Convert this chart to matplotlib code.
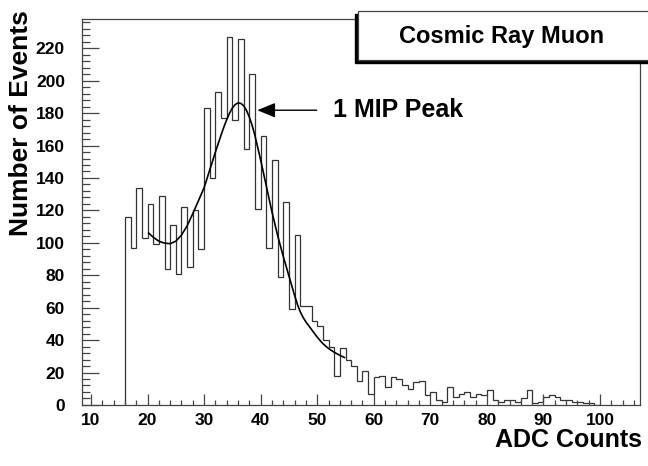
import numpy as np
import matplotlib.pyplot as plt
from matplotlib.ticker import MultipleLocator
from matplotlib.patches import Rectangle

plt.rcParams['font.family'] = ['Liberation Sans', 'DejaVu Sans']
plt.rcParams['font.weight'] = 'bold'

# histogram: 1 ADC-count bins starting at 16
bin_start = 16
counts = [116, 97, 134, 103, 124, 99, 129, 84, 111, 81,
          122, 85, 120, 96, 183, 140, 193, 177, 227, 176,
          226, 158, 204, 121, 166, 97, 151, 79, 125, 59,
          105, 61, 61, 52, 49, 40, 36, 18, 35, 28,
          24, 15, 21, 7, 17, 18, 11, 17, 16, 12,
          10, 14, 15, 6, 8, 3, 2, 11, 5, 7,
          8, 5, 7, 6, 9, 3, 2, 3, 3, 2,
          4, 9, 1, 2, 5, 6, 5, 3, 3, 2,
          2, 1, 1, 0]

# fit curve
fit_x = [20.2, 21, 22, 23, 24, 25, 26, 27, 28, 29, 30, 31, 32, 33, 33.5, 34,
         34.5, 35, 35.5, 36, 36.5, 37, 37.5, 38, 38.5, 39, 40, 41, 42, 43, 44,
         45, 46, 46.5, 47, 47.5, 48, 49, 50, 51, 52, 53, 54, 54.8]
fit_y = [106, 103.5, 101, 99.8, 99.5, 101, 104.8, 110.5, 118, 126, 134, 145,
         156, 166.5, 171.5, 176, 180, 183.2, 185.3, 186.3, 186, 184.5, 181.6,
         177.5, 172.3, 166, 151, 135, 119, 104.5, 91.5, 79.5, 67.5, 62, 57.5,
         54, 51.2, 46.5, 41.8, 37.8, 34.8, 32.5, 30.6, 29.3]

edges = np.arange(bin_start, bin_start + len(counts) + 1)

fig = plt.figure(figsize=(6.48, 4.66), dpi=100)
ax = fig.add_axes([0.126, 0.131, 0.862, 0.828])

ax.stairs(counts, edges, baseline=0, color='#333333', linewidth=0.9)
ax.plot(fit_x, fit_y, color='black', linewidth=1.2, solid_joinstyle='round')

ax.set_xlim(8.35, 107.1)
ax.set_ylim(0, 238)

ax.xaxis.set_major_locator(MultipleLocator(10))
ax.xaxis.set_minor_locator(MultipleLocator(2))
ax.yaxis.set_major_locator(MultipleLocator(20))
ax.yaxis.set_minor_locator(MultipleLocator(4))
ax.tick_params(axis='x', which='major', direction='in', length=7.7, width=0.9,
               color='#444444', labelsize=12.5, pad=6)
ax.tick_params(axis='x', which='minor', direction='in', length=3.6, width=0.9,
               color='#444444')
ax.tick_params(axis='y', which='major', direction='in', length=12, width=0.9,
               color='#444444', labelsize=12.5, pad=12)
ax.tick_params(axis='y', which='minor', direction='in', length=5.5, width=0.9,
               color='#444444')
for lab in ax.get_xticklabels() + ax.get_yticklabels():
    lab.set_fontweight('bold')
for s in ax.spines.values():
    s.set_color('#444444')
    s.set_linewidth(0.9)

fig.text(642 / 648, 1 - 440 / 466, 'ADC Counts', ha='right', va='center',
         fontsize=18, fontweight='bold')
fig.text(21 / 648, 1 - 10 / 466, 'Number of Events', ha='center', va='top',
         rotation=90, fontsize=19, fontweight='bold')

# arrow + label for the peak
ax.annotate('', xy=(39.4, 181.8), xytext=(49.9, 181.8),
            arrowprops=dict(arrowstyle='-|>,head_length=1.1,head_width=0.45',
                            color='black', lw=1.0, shrinkA=0, shrinkB=0))
ax.text(52.8, 181.8, '1 MIP Peak', ha='left', va='center', fontsize=18,
        fontweight='bold')

# title box with shadow
bx, by, bw, bh = 358 / 648, 1 - 60 / 466, 300 / 648, 49 / 466
fig.patches.append(Rectangle((bx - 3 / 648, by - 3 / 466), bw, bh,
                             transform=fig.transFigure, facecolor='black',
                             edgecolor='black', zorder=5))
fig.patches.append(Rectangle((bx, by), bw, bh, transform=fig.transFigure,
                             facecolor='white', edgecolor='#444444',
                             linewidth=0.9, zorder=6))
fig.text(502 / 648, 1 - 36 / 466, 'Cosmic Ray Muon', ha='center', va='center',
         fontsize=17, fontweight='bold', zorder=7)

fig.savefig('out.png', dpi=100)
